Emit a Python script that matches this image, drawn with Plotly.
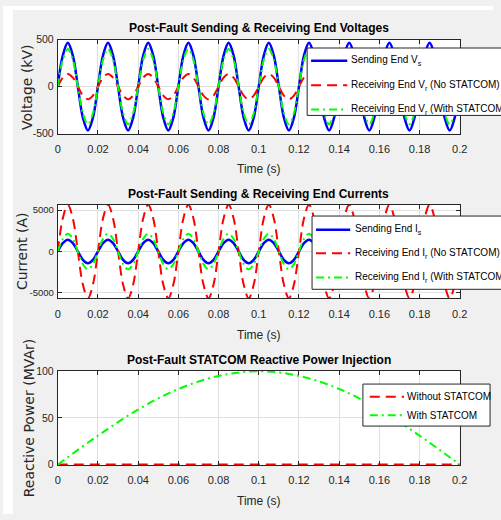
import plotly.graph_objects as go

W, H = 501, 520

# ---------------- data ----------------
t_wave = [
    0.0, 0.0025, 0.005, 0.0075, 0.01, 0.0125, 0.015, 0.0175,
    0.02, 0.0225, 0.025, 0.0275, 0.03, 0.0325, 0.035, 0.0375,
    0.04, 0.0425, 0.045, 0.0475, 0.05, 0.0525, 0.055, 0.0575,
    0.06, 0.0625, 0.065, 0.0675, 0.07, 0.0725, 0.075, 0.0775,
    0.08, 0.0825, 0.085, 0.0875, 0.09, 0.0925, 0.095, 0.0975,
    0.1, 0.1025, 0.105, 0.1075, 0.11, 0.1125, 0.115, 0.1175,
    0.12, 0.1225, 0.125, 0.1275, 0.13, 0.1325, 0.135, 0.1375,
    0.14, 0.1425, 0.145, 0.1475, 0.15, 0.1525, 0.155, 0.1575,
    0.16, 0.1625, 0.165, 0.1675, 0.17, 0.1725, 0.175, 0.1775,
    0.18, 0.1825, 0.185, 0.1875, 0.19, 0.1925, 0.195, 0.1975,
    0.2,
]

v_send = [
    0, 329, 465, 329, 0, -329, -465, -329,
    0, 329, 465, 329, 0, -329, -465, -329,
    0, 329, 465, 329, 0, -329, -465, -329,
    0, 329, 465, 329, 0, -329, -465, -329,
    0, 329, 465, 329, 0, -329, -465, -329,
    0, 329, 465, 329, 0, -329, -465, -329,
    0, 329, 465, 329, 0, -329, -465, -329,
    0, 329, 465, 329, 0, -329, -465, -329,
    0, 329, 465, 329, 0, -329, -465, -329,
    0, 329, 465, 329, 0, -329, -465, -329,
    0,
]

v_recv_no = [
    0, 95, 135, 95, 0, -95, -135, -95,
    0, 95, 135, 95, 0, -95, -135, -95,
    0, 95, 135, 95, 0, -95, -135, -95,
    0, 95, 135, 95, 0, -95, -135, -95,
    0, 95, 135, 95, 0, -95, -135, -95,
    0, 95, 135, 95, 0, -95, -135, -95,
    0, 95, 135, 95, 0, -95, -135, -95,
    0, 95, 135, 95, 0, -95, -135, -95,
    0, 95, 135, 95, 0, -95, -135, -95,
    0, 95, 135, 95, 0, -95, -135, -95,
    0,
]

v_recv_with = [
    0, 283, 400, 283, 0, -283, -400, -283,
    0, 283, 400, 283, 0, -283, -400, -283,
    0, 283, 400, 283, 0, -283, -400, -283,
    0, 283, 400, 283, 0, -283, -400, -283,
    0, 283, 400, 283, 0, -283, -400, -283,
    0, 283, 400, 283, 0, -283, -400, -283,
    0, 283, 400, 283, 0, -283, -400, -283,
    0, 283, 400, 283, 0, -283, -400, -283,
    0, 283, 400, 283, 0, -283, -400, -283,
    0, 283, 400, 283, 0, -283, -400, -283,
    0,
]

i_send = [
    0, 1004, 1420, 1004, 0, -1004, -1420, -1004,
    0, 1004, 1420, 1004, 0, -1004, -1420, -1004,
    0, 1004, 1420, 1004, 0, -1004, -1420, -1004,
    0, 1004, 1420, 1004, 0, -1004, -1420, -1004,
    0, 1004, 1420, 1004, 0, -1004, -1420, -1004,
    0, 1004, 1420, 1004, 0, -1004, -1420, -1004,
    0, 1004, 1420, 1004, 0, -1004, -1420, -1004,
    0, 1004, 1420, 1004, 0, -1004, -1420, -1004,
    0, 1004, 1420, 1004, 0, -1004, -1420, -1004,
    0, 1004, 1420, 1004, 0, -1004, -1420, -1004,
    0,
]

i_recv_no = [
    0, 3995, 5650, 3995, 0, -3995, -5650, -3995,
    0, 3995, 5650, 3995, 0, -3995, -5650, -3995,
    0, 3995, 5650, 3995, 0, -3995, -5650, -3995,
    0, 3995, 5650, 3995, 0, -3995, -5650, -3995,
    0, 3995, 5650, 3995, 0, -3995, -5650, -3995,
    0, 3995, 5650, 3995, 0, -3995, -5650, -3995,
    0, 3995, 5650, 3995, 0, -3995, -5650, -3995,
    0, 3995, 5650, 3995, 0, -3995, -5650, -3995,
    0, 3995, 5650, 3995, 0, -3995, -5650, -3995,
    0, 3995, 5650, 3995, 0, -3995, -5650, -3995,
    0,
]

i_recv_with = [
    0, 1520, 2150, 1520, 0, -1520, -2150, -1520,
    0, 1520, 2150, 1520, 0, -1520, -2150, -1520,
    0, 1520, 2150, 1520, 0, -1520, -2150, -1520,
    0, 1520, 2150, 1520, 0, -1520, -2150, -1520,
    0, 1520, 2150, 1520, 0, -1520, -2150, -1520,
    0, 1520, 2150, 1520, 0, -1520, -2150, -1520,
    0, 1520, 2150, 1520, 0, -1520, -2150, -1520,
    0, 1520, 2150, 1520, 0, -1520, -2150, -1520,
    0, 1520, 2150, 1520, 0, -1520, -2150, -1520,
    0, 1520, 2150, 1520, 0, -1520, -2150, -1520,
    0,
]

t_q = [0.0, 0.02, 0.04, 0.06, 0.08, 0.1, 0.12, 0.14, 0.16, 0.18, 0.2]
q_without = [0, 0, 0, 0, 0, 0, 0, 0, 0, 0, 0]
q_with = [0, 31, 59, 81, 95, 100, 95, 81, 59, 31, 0]

x_ticks = [0, 0.02, 0.04, 0.06, 0.08, 0.1, 0.12, 0.14, 0.16, 0.18, 0.2]
x_tick_text = ["0", "0.02", "0.04", "0.06", "0.08", "0.1", "0.12", "0.14", "0.16", "0.18", "0.2"]
v_ticks = [-500, 0, 500]
i_ticks = [-5000, 0, 5000]
q_ticks = [0, 50, 100]

titles = [
    "Post-Fault Sending & Receiving End Voltages",
    "Post-Fault Sending & Receiving End Currents",
    "Post-Fault STATCOM Reactive Power Injection",
]
y_titles = ["Voltage (kV)", "Current (A)", "Reactive Power (MVAr)"]
x_title = "Time (s)"

SUB = '<span style="font-size:7px;baseline-shift:-3px">{}</span>'
legend_v = ["Sending End V" + SUB.format("s"),
            "Receiving End V" + SUB.format("r") + " (No STATCOM)",
            "Receiving End V" + SUB.format("r") + " (With STATCOM)"]
legend_i = ["Sending End I" + SUB.format("s"),
            "Receiving End I" + SUB.format("r") + " (No STATCOM)",
            "Receiving End I" + SUB.format("r") + " (With STATCOM)"]
legend_q = ["Without STATCOM", "With STATCOM"]

# ---------------- styling ----------------
FN = "Liberation Sans, Arial, Helvetica, sans-serif"
FY = "DejaVu Sans, Verdana, sans-serif"
AX = "#262626"
BLUE, RED, GREEN = "#0000ff", "#ff0000", "#00ff00"
DASH_RED = "10px,6px"
DASH_GREEN = "8px,4px,2px,4px"


def px(x):
    return x / W


def py(y):
    return 1 - y / H


fig = go.Figure()

spl = dict(shape="spline", smoothing=1)


def add(x, y, color, dash, xa, ya, width=2, shape=True):
    line = dict(color=color, width=width, dash=dash)
    if shape:
        line.update(spl)
    fig.add_trace(go.Scatter(x=x, y=y, mode="lines", line=line,
                             xaxis=xa, yaxis=ya, showlegend=False,
                             hoverinfo="skip"))


add(t_wave, v_send, BLUE, "solid", "x", "y", width=2.5)
add(t_wave, v_recv_no, RED, DASH_RED, "x", "y")
add(t_wave, v_recv_with, GREEN, DASH_GREEN, "x", "y")

add(t_wave, i_send, BLUE, "solid", "x2", "y2", width=2.5)
add(t_wave, i_recv_no, RED, DASH_RED, "x2", "y2")
add(t_wave, i_recv_with, GREEN, DASH_GREEN, "x2", "y2")

add(t_q, q_without, RED, DASH_RED, "x3", "y3", shape=False)
add(t_q, q_with, GREEN, DASH_GREEN, "x3", "y3")

xdom = [px(56), px(467)]
plots = [(34.3, 130.7), (203.3, 299.3), (373.3, 470.0)]

common = dict(showline=True, linecolor=AX, linewidth=1, mirror="ticks",
              ticks="inside", ticklen=4, tickcolor=AX, tickwidth=1,
              showgrid=True, gridcolor="#dfdfdf", gridwidth=1,
              zeroline=False, fixedrange=True)

layout = dict(width=W, height=H, autosize=False,
              margin=dict(l=0, r=0, t=0, b=0, pad=0),
              paper_bgcolor="#f0f0f0", plot_bgcolor="#ffffff",
              showlegend=False)

yinfo = [([-500, 500], v_ticks, 10.5), ([-5660, 5660], i_ticks, 9.5), ([-0.6, 100.6], q_ticks, 10.5)]
for k, ((top, bot), (rng, tv, fs)) in enumerate(zip(plots, yinfo)):
    sfx = "" if k == 0 else str(k + 1)
    layout["xaxis" + sfx] = dict(common, domain=xdom, range=[0, 0.2],
                                 tickvals=x_ticks, ticktext=x_tick_text,
                                 anchor="y" + sfx, ticklabelstandoff=5,
                                 tickfont=dict(family=FN, size=11, color=AX))
    layout["yaxis" + sfx] = dict(common, domain=[py(bot), py(top)], range=rng,
                                 tickvals=tv, ticktext=[str(v) for v in tv],
                                 anchor="x" + sfx, ticklabelstandoff=1,
                                 tickfont=dict(family=FN, size=fs, color=AX))

fig.update_layout(**layout)

shapes = []
ann = []

# white strips outside the gray figure area
shapes.append(dict(type="rect", xref="paper", yref="paper", x0=0, x1=1,
                   y0=py(4), y1=1, fillcolor="white", line=dict(width=0), layer="below"))
shapes.append(dict(type="rect", xref="paper", yref="paper", x0=0, x1=px(10),
                   y0=0, y1=1, fillcolor="white", line=dict(width=0), layer="below"))

title_y = [23, 192, 362]
xlab_y = [167, 337, 507]
ylab_x = [24, 19, 27]
for k, (top, bot) in enumerate(plots):
    ann.append(dict(text="<b>" + titles[k] + "</b>", x=px(261.5), y=py(title_y[k]),
                    xref="paper", yref="paper", showarrow=False,
                    xanchor="center", yanchor="middle",
                    font=dict(family=FN, size=12, color="#000000")))
    ann.append(dict(text=x_title, x=px(261.5), y=py(xlab_y[k]),
                    xref="paper", yref="paper", showarrow=False,
                    xanchor="center", yanchor="middle",
                    font=dict(family=FN, size=12, color=AX)))
    ann.append(dict(text=y_titles[k], x=px(ylab_x[k]), y=py((top + bot) / 2),
                    xref="paper", yref="paper", showarrow=False, textangle=-90,
                    xanchor="center", yanchor="middle",
                    font=dict(family=FY, size=14, color=AX)))


def legend(box, line_x, text_x, rows, labels, styles, fsize):
    x0, x1, y0, y1 = box
    shapes.append(dict(type="rect", xref="paper", yref="paper",
                       x0=px(x0), x1=px(x1), y0=py(y1), y1=py(y0),
                       fillcolor="white", line=dict(color=AX, width=1), layer="above"))
    for ry, lab, (col, dash, lw) in zip(rows, labels, styles):
        shapes.append(dict(type="line", xref="paper", yref="paper",
                           x0=px(line_x[0]), x1=px(line_x[1]), y0=py(ry), y1=py(ry),
                           line=dict(color=col, width=lw, dash=dash), layer="above"))
        ann.append(dict(text=lab, x=px(text_x), y=py(ry), xref="paper", yref="paper",
                        showarrow=False, xanchor="left", yanchor="middle",
                        font=dict(family=FN, size=fsize, color="#000000")))


sty3 = [(BLUE, "solid", 2.5), (RED, DASH_RED, 2), (GREEN, DASH_GREEN, 2)]
legend((311, 560, 43, 112), (315, 352), 354, [56, 81, 106], legend_v, sty3, 10)
legend((316, 560, 215, 290), (320, 355), 358, [229, 253, 278], legend_i, sty3, 10)
legend((368, 498, 387, 430), (375, 410), 411, [400, 419], legend_q, sty3[1:], 10)

fig.update_layout(shapes=shapes, annotations=ann)

fig.write_html("out.html", config={"displayModeBar": False})
